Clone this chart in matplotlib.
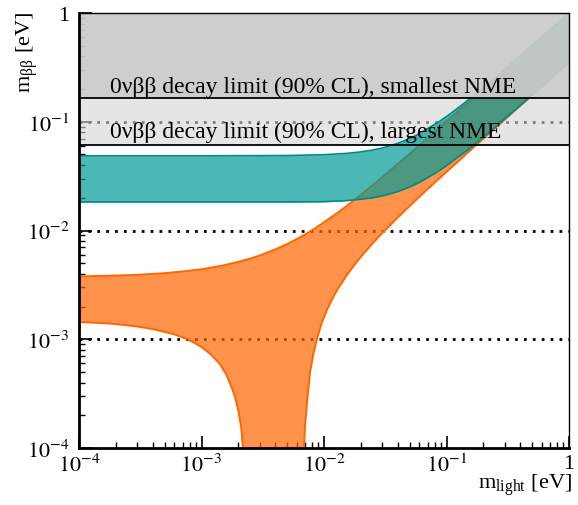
import matplotlib
matplotlib.use("Agg")
import matplotlib.pyplot as plt
from matplotlib.ticker import FixedLocator, LogLocator, NullFormatter
import numpy as np

plt.rcParams['font.family'] = 'serif'
plt.rcParams['font.serif'] = ['Liberation Serif', 'DejaVu Serif']
plt.rcParams['mathtext.fontset'] = 'stix'

# normal ordering band (orange)
no_up_x = [1e-4, 2e-4, 3e-4, 5e-4, 7e-4, 1e-3, 1.5e-3, 2e-3, 2.5e-3, 3e-3, 4e-3, 5e-3, 6e-3, 7e-3, 8.5e-3,
           1e-2, 1.25e-2, 1.5e-2, 2e-2, 2.5e-2, 3e-2, 4e-2, 5e-2, 7e-2, 0.1, 0.2, 0.5, 1.0]
no_up_y = [3.78e-3, 3.85e-3, 3.91e-3, 4.05e-3, 4.2e-3, 4.4e-3, 4.77e-3, 5.15e-3, 5.52e-3, 5.9e-3, 6.7e-3,
           7.5e-3, 8.35e-3, 9.2e-3, 1.05e-2, 1.19e-2, 1.42e-2, 1.65e-2, 2.13e-2, 2.62e-2, 3.11e-2,
           4.1e-2, 5.08e-2, 7.06e-2, 0.1007, 0.2003, 0.5, 1.0]
no_lo_left_x = [1e-4, 1.5e-4, 2e-4, 3e-4, 4e-4, 5e-4, 6e-4, 7e-4, 8e-4, 1e-3, 1.2e-3, 1.4e-3, 1.6e-3,
                1.8e-3, 1.9e-3, 2.0e-3, 2.1e-3, 2.18e-3, 2.35e-3]
no_lo_left_y = [1.44e-3, 1.41e-3, 1.38e-3, 1.31e-3, 1.24e-3, 1.17e-3, 1.11e-3, 1.04e-3, 9.8e-4, 8.5e-4,
                7.2e-4, 6.0e-4, 4.7e-4, 3.4e-4, 2.8e-4, 2.2e-4, 1.6e-4, 1.0e-4, 1e-5]
no_lo_right_x = [6.75e-3, 6.87e-3, 7.0e-3, 7.26e-3, 7.7e-3, 8.2e-3, 8.8e-3, 9.6e-3, 1.06e-2, 1.18e-2, 1.3e-2,
                 1.54e-2, 1.8e-2, 2.1e-2, 2.5e-2, 3e-2, 4e-2, 5e-2, 7e-2, 0.1, 0.15, 0.2, 0.3, 0.5, 1.0]
no_lo_right_y = [1e-5, 1e-4, 1.6e-4, 2.6e-4, 5.0e-4, 7.4e-4, 1.03e-3, 1.42e-3, 1.88e-3, 2.4e-3, 2.92e-3,
                 3.9e-3, 4.94e-3, 6.1e-3, 7.64e-3, 9.51e-3, 1.318e-2, 1.68e-2, 2.4e-2, 3.46e-2, 5.23e-2,
                 6.99e-2, 0.105, 0.175, 0.35]

# inverted ordering band (teal)
io_x = [1e-4, 1e-3, 5e-3, 1e-2, 1.5e-2, 2e-2, 2.5e-2, 3e-2, 4e-2, 5e-2, 6e-2, 7e-2, 8.5e-2, 0.1, 0.125,
        0.15, 0.2, 0.3, 0.5, 0.7, 1.0]
io_up = [0.0486, 0.0486, 0.0489, 0.0498, 0.0511, 0.0528, 0.055, 0.0574, 0.0633, 0.0701, 0.0776, 0.0865,
         0.0984, 0.1117, 0.1347, 0.158, 0.2066, 0.304, 0.5025, 0.7, 1.0]
io_lo = [0.0183, 0.0183, 0.0183, 0.0184, 0.0188, 0.0194, 0.0200, 0.0208, 0.0228, 0.0251, 0.0277, 0.0306,
         0.0349, 0.0395, 0.0476, 0.0553, 0.0722, 0.107, 0.176, 0.248, 0.35]

# 0vbb limits
limit_smallest = 0.165
limit_largest = 0.061
limit_labels = ['0νββ decay limit (90% CL), smallest NME', '0νββ decay limit (90% CL), largest NME']
label_y = [0.188, 0.0724]
dotted_levels = [1e-3, 1e-2, 1e-1]

ticks = [1e-4, 1e-3, 1e-2, 1e-1, 1.0]
tick_labels = ['$10^{-4}$', '$10^{-3}$', '$10^{-2}$', '$10^{-1}$', '1']

orange = '#ff6600'
teal = '#009b98'

fig = plt.figure(figsize=(5.78, 5.06), dpi=100)
ax = fig.add_axes([79/578, 1-449/506, 490/578, 435/506])
ax.set_xscale('log')
ax.set_yscale('log')
ax.set_xlim(1e-4, 1)
ax.set_ylim(1e-4, 1)
ax.set_axisbelow(True)

for lev in dotted_levels:
    ax.axhline(lev, color='black', lw=2.0, ls=(0, (1, 2.2)), zorder=0.3)

# light gray band below the bands
ax.axhspan(limit_largest, limit_smallest, color=(212/255, 212/255, 212/255), alpha=0.6, lw=0, zorder=0.6)

# orange band
poly_x = no_up_x + no_lo_right_x[::-1] + no_lo_left_x[::-1]
poly_y = no_up_y + no_lo_right_y[::-1] + no_lo_left_y[::-1]
ax.fill(poly_x, poly_y, color=orange, alpha=0.7, lw=0, zorder=1)
ax.plot(no_up_x, no_up_y, color=orange, lw=1.4, zorder=1.2)
ax.plot(no_lo_left_x, no_lo_left_y, color=orange, lw=1.4, zorder=1.2)
ax.plot(no_lo_right_x, no_lo_right_y, color=orange, lw=1.4, zorder=1.2)

# teal band
ax.fill_between(io_x, io_lo, io_up, color=teal, alpha=0.7, lw=0, zorder=1.3)
ax.plot(io_x, io_up, color='#008a87', lw=1.2, zorder=1.4)
ax.plot(io_x, io_lo, color='#008a87', lw=1.2, zorder=1.4)

# dark gray excluded region on top
ax.axhspan(limit_smallest, 1, color=(203/255, 203/255, 203/255), alpha=0.93, lw=0, zorder=2)
ax.axhline(limit_smallest, color='black', lw=1.3, zorder=2.2)
ax.axhline(limit_largest, color='black', lw=1.3, zorder=2.2)

for txt, yy in zip(limit_labels, label_y):
    ax.text(1.8e-4, yy, txt, fontsize=17, va='baseline', ha='left', zorder=3)

for a in (ax.xaxis, ax.yaxis):
    a.set_major_locator(FixedLocator(ticks))
    a.set_minor_locator(LogLocator(base=10, subs=np.arange(2, 10)))
    a.set_minor_formatter(NullFormatter())
ax.set_xticklabels(tick_labels)
ax.set_yticklabels(tick_labels)
ax.tick_params(which='both', direction='in', top=False, right=False, labelsize=16)
ax.tick_params(which='major', length=9, width=1.2)
ax.tick_params(which='minor', length=4.5, width=1.0)
ax.tick_params(axis='y', pad=7)
ax.tick_params(axis='x', pad=4)

ax.spines['left'].set_linewidth(2.0)
ax.spines['bottom'].set_linewidth(2.0)
ax.spines['top'].set_linewidth(1.0)
ax.spines['right'].set_linewidth(1.0)

fig.text(27/578, 1-12/506, r'm$_\mathregular{ββ}$ [eV]', rotation=90, ha='center', va='top', fontsize=16)
fig.text(572/578, 1-489/506, r'm$_\mathregular{light}$ [eV]', ha='right', va='baseline', fontsize=16)

fig.savefig('out.png', dpi=100)
